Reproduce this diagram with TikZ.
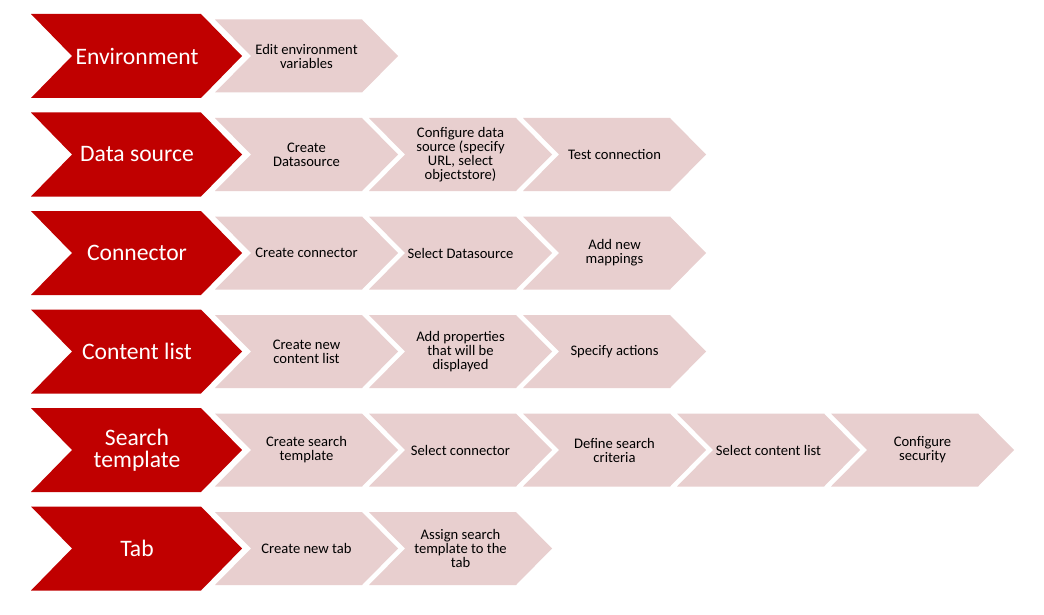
\documentclass[tikz,border=0pt]{standalone}
\usepackage{fontspec}
\setmainfont{Carlito}
\usepackage{tikz}
\definecolor{stagered}{HTML}{C00000}
\definecolor{steppink}{HTML}{E8CFCF}
\def\chevron[#1](#2,#3)(#4:#5:#6){\fill[#1] (#2,#3-#5) -- ++(#4-#6,0) -- ++(#6,#5) -- ++(-#6,#5) -- ++(#6-#4,0) -- ++(#6,-#5) -- cycle;}
\tikzset{
  stagetxt/.style={text=white, align=center, inner sep=0pt, font={\fontsize{23.6}{22.5}\selectfont}},
  steptxt/.style={text=black, align=center, inner sep=0pt, font={\fontsize{14.6}{14}\selectfont}}
}

\begin{document}
\begin{tikzpicture}[x=1pt, y=-1pt]
			%%%%% START %%%%%
			\useasboundingbox[fill=white] (0, 0) rectangle (1044, 615);
			
			% Environment
			\chevron[stagered](31,56)(211:42:41)
			\chevron[steppink](215,56)(183:36.5:36)
			\node[stagetxt] (env) at (137, 56) {Environment};
			\node[steptxt] (envedit) at (306.5, 56) {Edit environment\\variables};
			
			% Data source
			\chevron[stagered](31,154.5)(211:42:41)
			\chevron[steppink](215,154.5)(183:36.5:36)
			\chevron[steppink](369,154.5)(183:36.5:36)
			\chevron[steppink](523,154.5)(183:36.5:36)
			\node[stagetxt] (ds) at (137, 154.5) {Data source};
			\node[steptxt] (dscreate) at (306.5, 154.5) {Create\\Datasource};
			\node[steptxt] (dsconfig) at (460.5, 154.5) {Configure data\\source (specify\\URL, select\\objectstore)};
			\node[steptxt] (dstest) at (614.5, 154.5) {Test connection};
			
			% Connector
			\chevron[stagered](31,253)(211:42:41)
			\chevron[steppink](215,253)(183:36.5:36)
			\chevron[steppink](369,253)(183:36.5:36)
			\chevron[steppink](523,253)(183:36.5:36)
			\node[stagetxt] (con) at (137, 253) {Connector};
			\node[steptxt] (concreate) at (306.5, 253) {Create connector};
			\node[steptxt] (conselect) at (460.5, 253) {Select Datasource};
			\node[steptxt] (conmap) at (614.5, 253) {Add new\\mappings};
			
			% Content list
			\chevron[stagered](31,351.5)(211:42:41)
			\chevron[steppink](215,351.5)(183:36.5:36)
			\chevron[steppink](369,351.5)(183:36.5:36)
			\chevron[steppink](523,351.5)(183:36.5:36)
			\node[stagetxt] (cl) at (137, 351.5) {Content list};
			\node[steptxt] (clcreate) at (306.5, 351.5) {Create new\\content list};
			\node[steptxt] (clprops) at (460.5, 351.5) {Add properties\\that will be\\displayed};
			\node[steptxt] (clactions) at (614.5, 351.5) {Specify actions};
			
			% Search template
			\chevron[stagered](31,450)(211:42:41)
			\chevron[steppink](215,450)(183:36.5:36)
			\chevron[steppink](369,450)(183:36.5:36)
			\chevron[steppink](523,450)(183:36.5:36)
			\chevron[steppink](677,450)(183:36.5:36)
			\chevron[steppink](831,450)(183:36.5:36)
			\node[stagetxt] (st) at (137, 450) {Search\\template};
			\node[steptxt] (stcreate) at (306.5, 450) {Create search\\template};
			\node[steptxt] (stconn) at (460.5, 450) {Select connector};
			\node[steptxt] (stcrit) at (614.5, 450) {Define search\\criteria};
			\node[steptxt] (stlist) at (768.5, 450) {Select content list};
			\node[steptxt] (stsec) at (922.5, 450) {Configure\\security};
			
			% Tab
			\chevron[stagered](31,548.5)(211:42:41)
			\chevron[steppink](215,548.5)(183:36.5:36)
			\chevron[steppink](369,548.5)(183:36.5:36)
			\node[stagetxt] (tab) at (137, 548.5) {Tab};
			\node[steptxt] (tabcreate) at (306.5, 548.5) {Create new tab};
			\node[steptxt] (tabassign) at (460.5, 548.5) {Assign search\\template to the\\tab};
			
			%%%%% END %%%%%
\end{tikzpicture}
\end{document}
